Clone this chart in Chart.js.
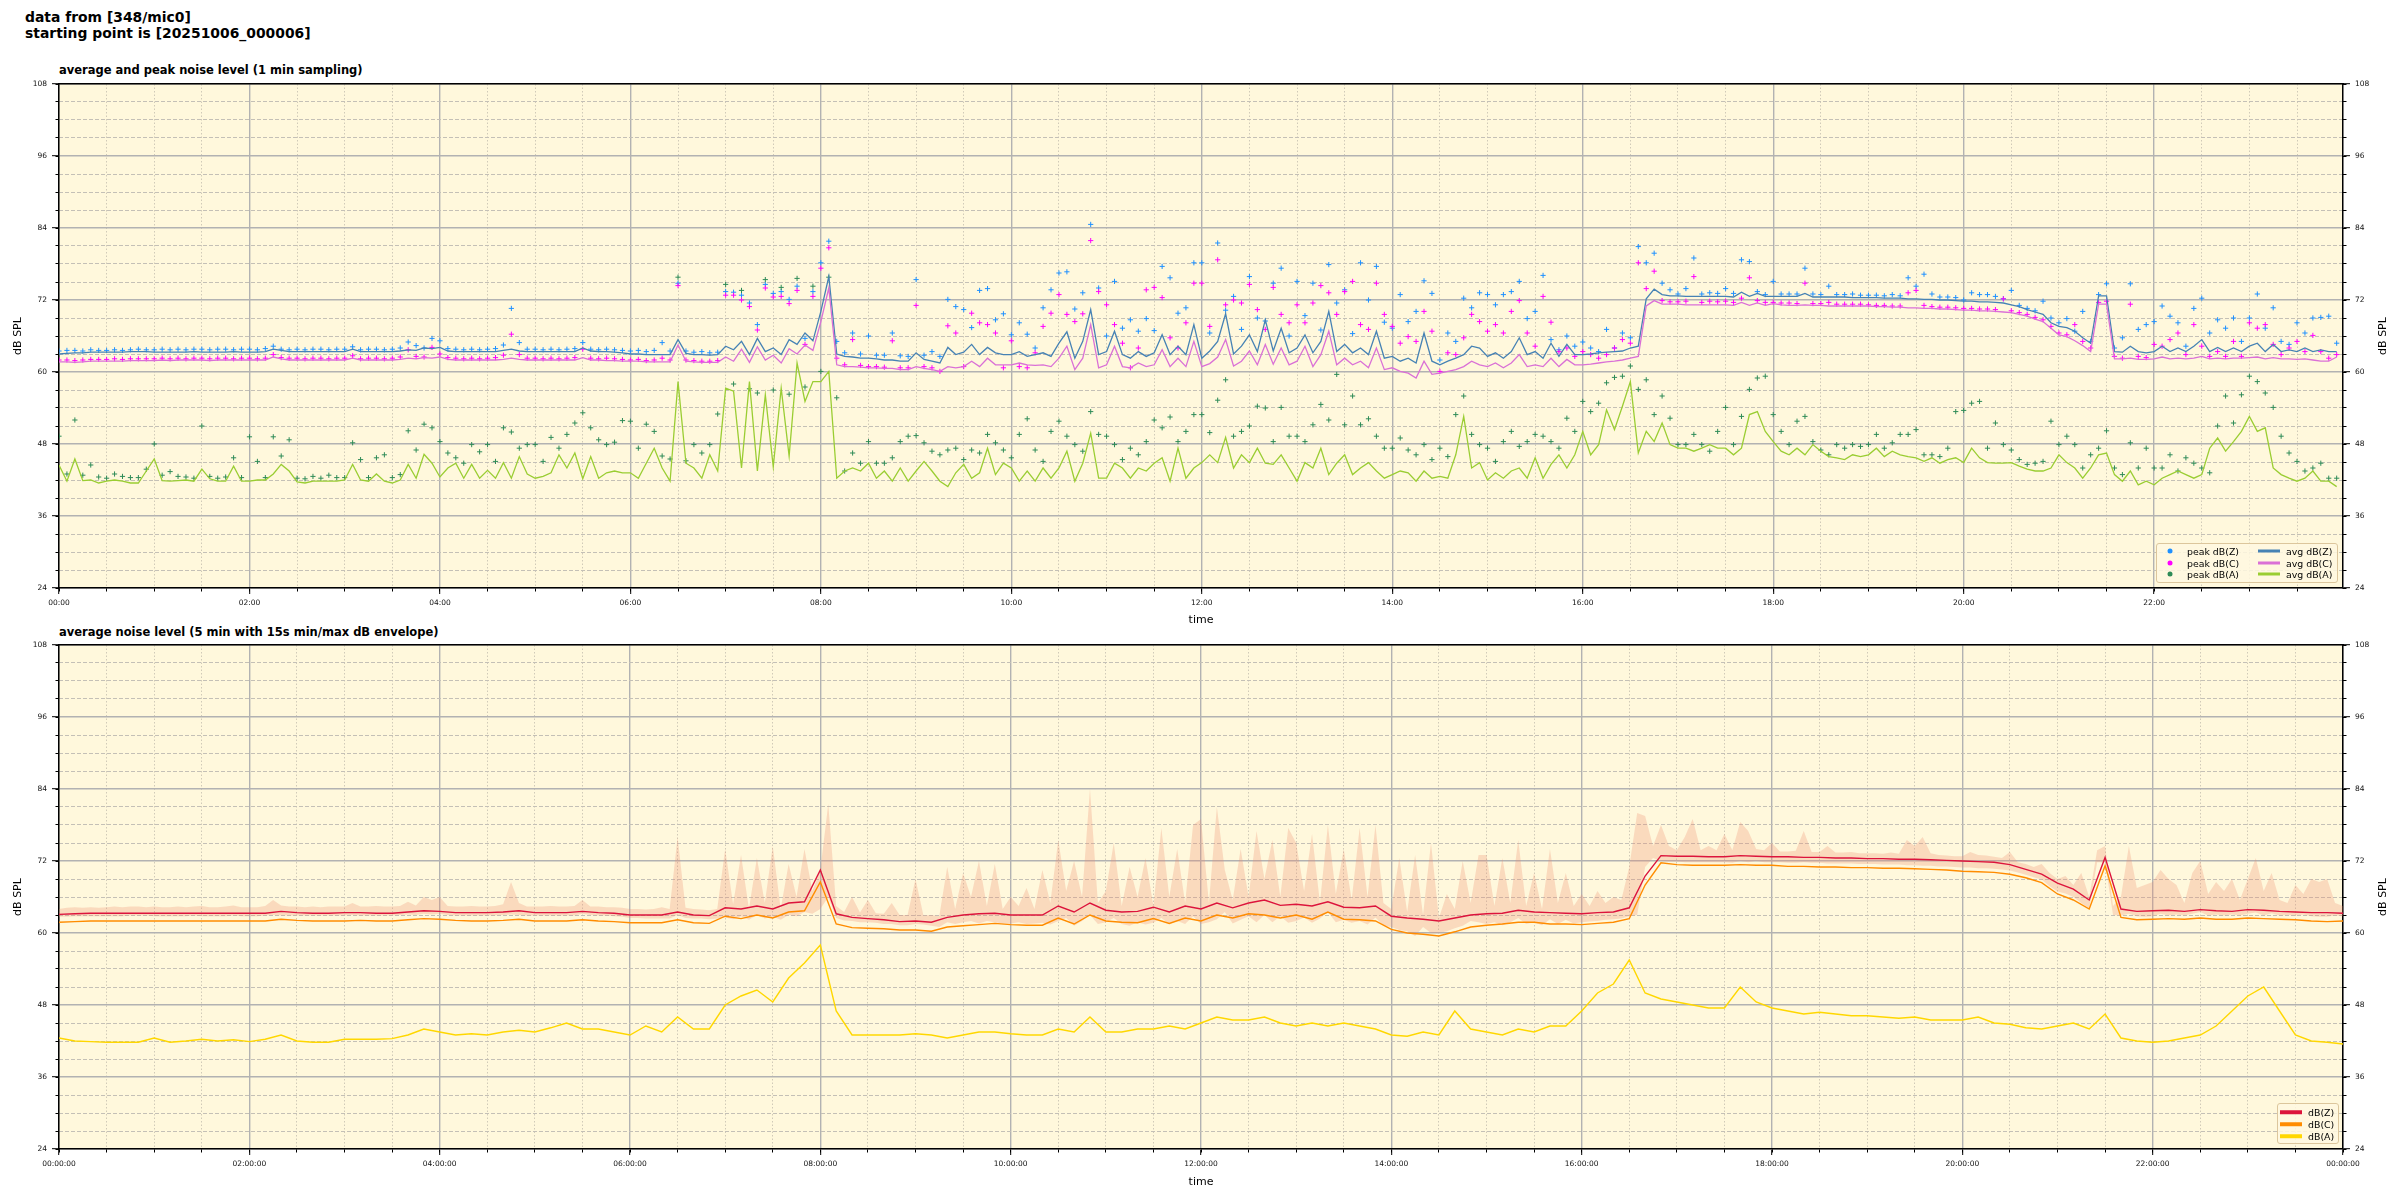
<!DOCTYPE html>
<html><head><meta charset="utf-8">
<script src="https://cdn.jsdelivr.net/npm/chart.js@4.4.1/dist/chart.umd.min.js"></script>
<style>
html,body{margin:0;padding:0;background:#fff}
body{width:2400px;height:1200px;position:relative;overflow:hidden;font-family:'DejaVu Sans',sans-serif;color:#000}
#sup{position:absolute;left:25px;top:10px;font-weight:bold;font-size:13.9px;line-height:15.5px;white-space:pre}
.ptitle{position:absolute;left:59px;font-weight:bold;font-size:11.5px;line-height:14px;white-space:nowrap}
canvas{position:absolute;left:0}
.rtitle{position:absolute;font-size:11px;line-height:13px;white-space:nowrap;transform:translate(-50%,-50%) rotate(-90deg)}
.legend{position:absolute;border:1px solid #dcc69c;border-radius:3px;background:rgba(255,248,225,0.85);box-sizing:border-box;font-size:9.4px}
.legend .t{position:absolute;line-height:11px;transform:translateY(-50%);white-space:nowrap}
.legend .d{position:absolute;width:5px;height:5px;border-radius:50%;transform:translate(-50%,-50%)}
.legend .l{position:absolute;width:22px;height:3px;transform:translateY(-50%)}
</style></head>
<body>
<div id="sup">data from [348/mic0]
starting point is [20251006_000006]</div>
<div class="ptitle" style="top:63px">average and peak noise level (1 min sampling)</div>
<div class="ptitle" style="top:625px">average noise level (5 min with 15s min/max dB envelope)</div>
<canvas id="c1" width="2400" height="576" style="top:60px;width:2400px;height:576px"></canvas>
<canvas id="c2" width="2400" height="580" style="top:620px;width:2400px;height:580px"></canvas>
<div class="rtitle" style="left:2382px;top:336px">dB SPL</div>
<div class="rtitle" style="left:2382px;top:897px">dB SPL</div>

<div class="legend" style="left:2156px;top:543px;width:182px;height:40px">
  <div class="d" style="left:13px;top:7px;background:#1E90FF"></div><div class="t" style="left:30px;top:7px">peak dB(Z)</div>
  <div class="d" style="left:13px;top:19px;background:#FF00FF"></div><div class="t" style="left:30px;top:19px">peak dB(C)</div>
  <div class="d" style="left:13px;top:30px;background:#2E8B57"></div><div class="t" style="left:30px;top:30px">peak dB(A)</div>
  <div class="l" style="left:101px;top:7px;background:#4682B4"></div><div class="t" style="left:129px;top:7px">avg dB(Z)</div>
  <div class="l" style="left:101px;top:19px;background:#DA70D6"></div><div class="t" style="left:129px;top:19px">avg dB(C)</div>
  <div class="l" style="left:101px;top:30px;background:#9ACD32"></div><div class="t" style="left:129px;top:30px">avg dB(A)</div>
</div>
<div class="legend" style="left:2277px;top:1103px;width:62px;height:41px">
  <div class="l" style="left:2px;top:8px;height:3.5px;background:#DC143C"></div><div class="t" style="left:30px;top:8px">dB(Z)</div>
  <div class="l" style="left:2px;top:20px;height:3.5px;background:#FF8C00"></div><div class="t" style="left:30px;top:20px">dB(C)</div>
  <div class="l" style="left:2px;top:32px;height:3.5px;background:#FFD700"></div><div class="t" style="left:30px;top:32px">dB(A)</div>
</div>

<script>
// ---------------- tick labels ----------------
const topTickHours = [0,2,4,6,8,10,12,14,16,18,20,22];
const topTickLabels = ['00:00','02:00','04:00','06:00','08:00','10:00','12:00','14:00','16:00','18:00','20:00','22:00'];
const bottomTickHours = [0,2,4,6,8,10,12,14,16,18,20,22,24];
const bottomTickLabels = ['00:00:00','02:00:00','04:00:00','06:00:00','08:00:00','10:00:00','12:00:00','14:00:00','16:00:00','18:00:00','20:00:00','22:00:00','00:00:00'];
const yTickValues = [24,36,48,60,72,84,96,108];

// ---------------- top panel: 5-minute samples (one row per hour) ----------------
const topStepMinutes = 5;
const avgZ = [
63.0,63.1,63.2,63.2,63.3,63.3,63.3,63.3,63.3,63.4,63.4,63.4,
63.3,63.3,63.3,63.3,63.3,63.4,63.3,63.3,63.3,63.3,63.4,63.3,
63.3,63.3,63.4,63.8,63.6,63.4,63.4,63.4,63.4,63.4,63.4,63.4,
63.4,63.8,63.4,63.4,63.4,63.4,63.4,63.5,63.7,63.6,64.0,63.9,
64.1,63.5,63.4,63.4,63.4,63.4,63.4,63.4,63.6,63.8,63.5,63.4,
63.4,63.4,63.4,63.4,63.4,63.4,64.0,63.5,63.4,63.4,63.3,63.2,
63.0,63.0,62.9,62.9,62.9,62.9,65.4,63.1,62.9,62.9,62.8,62.9,
64.3,63.7,65.1,62.9,65.6,63.4,64.0,62.9,65.4,64.6,66.5,65.2,
70.1,75.9,63.0,62.6,62.5,62.3,62.3,62.2,62.0,62.0,61.8,61.8,
63.2,62.1,61.8,61.5,64.1,62.9,63.3,64.6,62.9,64.1,63.2,62.9,
62.9,63.4,62.6,62.9,63.2,62.6,64.8,66.7,62.3,65.1,70.4,62.9,
63.4,66.8,62.9,62.3,63.4,62.6,63.2,66.2,62.9,64.3,62.9,67.9,
62.3,63.5,65.1,69.7,63.0,64.3,66.2,63.4,68.7,63.5,67.3,63.2,
64.0,66.2,63.2,65.1,70.1,63.4,64.6,63.2,64.0,62.9,66.8,62.3,
62.6,61.8,62.3,61.5,66.5,61.8,61.2,61.8,62.3,62.9,64.3,64.0,
62.6,63.2,62.3,63.4,65.7,62.9,63.4,62.3,64.8,62.6,64.6,62.9,
62.9,63.0,63.2,63.3,63.4,63.5,64.0,64.3,72.2,73.8,72.9,72.7,
72.7,72.6,72.6,72.6,72.6,72.6,72.6,72.5,73.3,72.6,73.1,72.6,
72.6,72.6,72.6,72.6,73.1,72.5,72.5,72.5,72.5,72.5,72.4,72.4,
72.4,72.4,72.3,72.3,72.3,72.2,72.2,72.1,72.1,72.0,72.0,71.9,
71.8,71.8,71.7,71.7,71.6,71.5,71.2,70.9,70.4,70.0,69.6,68.2,
67.6,67.4,66.8,65.7,64.8,72.7,72.7,63.4,63.3,64.3,63.4,63.2,
63.4,64.3,63.4,64.0,63.4,64.3,65.4,63.4,64.1,63.4,64.0,63.4,
64.3,64.8,63.4,64.6,63.4,63.7,63.4,64.0,63.4,63.7,63.4,63.4];
const avgC = [
61.7,61.7,61.6,61.7,61.8,61.8,61.8,61.8,61.8,61.9,61.9,61.9,
61.9,62.0,61.9,62.0,62.0,62.0,62.0,61.9,62.0,62.0,62.0,62.0,
62.0,62.0,62.0,62.5,62.2,62.0,62.0,62.0,62.0,62.0,62.0,62.0,
62.0,62.3,62.0,62.0,62.0,62.0,62.0,62.1,62.3,62.2,62.4,62.3,
62.5,62.1,62.0,62.0,62.0,62.0,62.0,62.0,62.1,62.3,62.1,62.0,
62.0,62.0,62.0,62.0,62.0,62.0,62.4,62.0,62.0,61.9,61.9,61.8,
61.8,61.8,61.7,61.7,61.7,61.7,64.5,61.8,61.7,61.6,61.6,61.6,
62.5,61.8,63.8,61.6,64.2,62.0,62.8,61.5,63.9,63.0,64.5,63.6,
68.4,74.0,61.2,60.9,60.9,60.8,60.7,60.7,60.6,60.6,60.4,60.4,
60.9,60.6,60.4,60.1,60.9,60.7,60.9,61.8,60.9,62.3,61.2,61.2,
61.2,61.5,61.2,61.1,61.2,60.9,62.3,64.3,60.4,62.3,67.9,60.7,
61.2,64.3,60.9,60.7,61.5,60.9,61.2,63.7,60.9,62.3,60.9,65.1,
60.9,61.4,62.5,65.4,61.0,61.8,63.5,61.2,64.6,61.3,64.0,61.2,
61.8,64.3,60.9,62.9,66.8,61.2,62.3,61.2,61.8,60.7,64.0,60.4,
60.7,60.1,59.8,59.0,61.8,59.6,59.8,60.1,60.4,60.9,61.8,61.2,
60.9,61.5,60.7,61.5,62.9,60.9,61.2,60.9,62.3,60.9,62.1,61.2,
61.2,61.3,61.5,61.7,61.8,62.0,62.3,62.6,71.0,71.9,71.3,71.3,
71.3,71.2,71.2,71.2,71.2,71.2,71.2,71.1,71.6,71.1,71.5,71.1,
71.4,71.2,71.1,71.1,71.2,71.1,71.1,71.0,71.0,71.0,71.0,71.0,
71.0,70.9,70.9,70.8,70.8,70.7,70.7,70.6,70.6,70.5,70.5,70.4,
70.3,70.3,70.2,70.2,70.1,70.0,69.9,69.6,69.3,68.8,68.4,67.3,
66.2,65.9,65.2,64.4,63.4,71.3,71.3,62.2,62.2,62.3,62.1,62.1,
62.2,62.5,62.2,62.3,62.2,62.3,62.6,62.2,62.3,62.2,62.3,62.3,
62.4,62.5,62.2,62.4,62.2,62.2,62.1,62.2,62.0,61.8,61.8,62.5];
const avgA = [
44.5,41.8,45.5,41.9,42.0,41.5,41.8,42.0,41.8,41.5,41.5,43.5,
45.5,41.9,41.8,41.9,42.0,41.8,43.8,42.2,41.8,41.8,44.3,41.8,
41.8,42.0,42.0,43.0,44.6,43.5,41.7,41.5,41.8,41.8,41.8,41.8,
42.0,44.6,42.0,41.8,43.0,41.8,41.5,42.0,44.6,42.3,46.3,44.8,
42.5,44.0,44.8,42.3,44.6,42.3,43.6,42.3,44.9,42.3,45.9,43.0,
42.3,42.6,43.2,46.2,44.0,46.5,42.2,45.9,42.3,43.2,43.5,43.2,
43.2,42.3,44.8,47.3,44.0,41.8,58.4,44.8,44.0,42.3,46.2,43.5,
57.3,56.8,44.0,58.4,43.5,56.2,44.2,57.3,46.0,61.5,55.1,58.4,
58.4,60.1,42.3,43.5,44.0,43.5,44.8,42.3,43.5,41.8,44.0,41.8,
43.5,45.1,43.5,41.8,40.9,43.2,44.6,42.3,43.2,47.3,42.9,44.8,
44.0,41.8,43.5,41.8,44.0,42.3,44.0,46.8,41.8,44.8,49.8,42.3,
42.3,44.8,44.0,42.3,44.0,43.5,44.8,45.7,41.8,47.3,42.3,44.0,
44.9,46.2,44.9,49.1,44.0,46.2,44.9,47.3,44.8,44.6,46.2,44.0,
41.8,44.9,44.0,47.3,42.9,44.8,46.2,42.9,44.0,44.9,43.5,42.3,
42.9,43.5,43.2,41.8,43.5,42.3,42.6,42.3,46.2,52.6,44.0,44.9,
42.0,43.2,42.3,43.5,44.0,42.3,45.7,42.3,44.6,46.2,44.0,46.2,
50.1,46.2,47.9,53.7,50.4,54.3,58.4,46.5,50.1,48.4,51.5,47.9,
47.3,47.3,46.8,47.3,47.9,47.3,47.3,46.2,47.3,52.9,53.4,50.1,
48.4,46.8,46.2,47.3,46.2,47.9,46.8,45.9,45.7,45.4,46.2,45.9,
46.2,47.3,45.9,46.8,46.2,45.9,45.7,45.1,45.7,44.8,45.4,45.7,
44.9,47.3,45.7,44.9,44.8,44.8,44.9,44.3,43.8,43.5,43.5,44.0,
46.2,44.9,44.0,42.3,44.0,46.2,46.5,42.9,41.8,43.5,41.2,41.8,
41.2,42.3,42.9,43.5,42.9,42.3,42.9,47.3,49.0,46.8,48.4,50.1,
52.6,50.1,50.7,44.0,42.9,42.3,41.8,42.3,43.5,41.8,41.8,40.9];
const peakZ = [
63.5,63.6,63.6,63.5,63.7,63.6,63.6,63.7,63.6,63.7,63.8,63.7,
63.7,63.8,63.7,63.8,63.7,63.8,63.8,63.7,63.8,63.8,63.7,63.8,
63.8,63.7,63.9,64.3,63.8,63.7,63.8,63.7,63.8,63.8,63.7,63.8,
63.8,64.2,63.7,63.8,63.8,63.7,63.8,64.0,65.0,64.4,64.0,65.6,
65.2,63.9,63.8,63.7,63.8,63.7,63.8,63.9,64.5,70.6,64.9,63.8,
63.8,63.7,63.8,63.7,63.8,63.9,64.9,63.8,63.7,63.8,63.7,63.6,
63.5,63.6,63.4,63.6,64.9,63.5,74.8,63.5,63.3,63.4,63.2,63.3,
73.4,73.3,72.8,71.5,67.9,74.6,73.1,73.4,72.1,74.3,65.6,73.4,
78.2,81.8,65.1,63.2,66.5,63.0,66.0,62.8,62.8,66.5,62.7,62.6,
75.4,62.8,63.4,62.6,72.1,70.9,70.4,67.4,73.6,73.9,68.7,69.7,
66.2,68.2,66.3,64.0,70.7,73.7,76.5,76.7,70.5,73.2,84.6,74.0,
66.0,75.1,67.3,68.7,66.8,68.9,66.9,77.6,75.7,69.8,70.7,78.2,
78.2,66.5,81.5,70.3,72.6,67.1,75.9,69.0,68.5,74.8,77.3,66.0,
75.1,69.4,74.8,67.0,77.9,71.5,73.7,66.4,78.2,72.0,77.6,68.3,
67.3,72.9,68.4,70.1,75.2,73.1,62.0,66.5,65.1,72.3,70.7,73.2,
72.9,71.2,72.9,73.4,75.1,68.9,70.1,76.1,65.4,63.7,66.0,64.3,
65.0,64.0,63.4,67.1,64.0,66.5,65.7,80.9,78.2,79.8,74.8,73.7,
73.0,73.9,79.0,73.0,73.2,73.1,73.9,73.1,78.7,78.4,73.4,72.9,
75.1,73.0,73.0,73.0,77.3,73.0,72.9,74.3,72.9,72.9,73.0,72.8,
72.8,72.8,72.7,72.9,72.7,75.7,74.3,76.3,73.0,72.5,72.5,72.4,
72.0,73.2,72.9,72.9,72.6,72.2,73.6,71.1,70.6,70.2,71.8,69.0,
68.2,68.9,66.8,70.1,65.1,72.9,74.7,64.0,65.7,74.7,67.1,67.9,
68.4,71.0,69.3,68.2,64.3,70.6,72.3,66.5,68.7,67.3,69.0,65.1,
69.0,73.0,67.3,70.7,65.1,64.6,68.2,66.5,69.0,69.1,69.3,64.8];
const peakC = [
62.0,62.0,61.9,62.0,62.1,62.1,62.1,62.2,62.1,62.2,62.2,62.2,
62.2,62.3,62.2,62.3,62.2,62.3,62.3,62.2,62.3,62.3,62.2,62.3,
62.3,62.2,62.3,62.9,62.4,62.3,62.3,62.2,62.3,62.3,62.2,62.3,
62.3,62.7,62.2,62.3,62.3,62.2,62.3,62.5,63.7,62.6,62.5,64.1,
63.0,62.4,62.3,62.2,62.3,62.2,62.3,62.4,62.8,66.3,62.9,62.3,
62.3,62.2,62.3,62.2,62.3,62.4,63.8,62.3,62.2,62.3,62.2,62.1,
62.0,62.1,61.9,62.0,62.3,62.0,74.4,62.0,61.9,61.8,61.8,61.9,
72.8,72.8,72.0,70.9,67.0,74.0,72.5,72.6,71.4,73.6,64.6,72.6,
77.3,80.7,62.3,61.2,65.4,61.1,60.9,60.9,60.8,65.2,60.7,60.7,
71.1,60.9,60.7,60.1,67.7,66.5,60.9,69.8,68.2,67.9,66.5,60.7,
65.2,60.9,60.7,63.2,67.6,69.8,72.9,69.6,68.4,69.7,81.9,73.4,
71.2,67.9,64.8,60.7,64.0,73.7,74.1,72.4,65.7,64.0,68.2,74.8,
74.8,67.6,78.7,71.2,72.0,71.5,74.6,70.4,67.1,74.1,69.6,68.2,
71.2,68.2,71.5,74.4,73.2,69.6,73.4,75.1,67.9,67.1,74.8,69.6,
67.6,64.8,65.9,65.1,70.1,66.8,60.1,63.2,62.9,65.7,69.6,68.4,
66.8,67.9,66.5,70.1,71.9,66.5,64.3,72.6,68.3,63.4,64.0,62.6,
63.4,62.9,62.3,62.9,64.0,65.4,64.8,78.2,73.9,76.8,71.9,71.7,
71.7,71.8,75.9,71.6,71.8,71.7,71.8,71.6,72.3,75.7,71.9,71.6,
71.6,71.5,71.5,71.4,74.8,71.4,71.4,71.6,71.3,71.3,71.3,71.3,
71.2,71.1,71.1,71.0,71.0,73.2,73.6,71.1,70.9,70.8,70.8,70.7,
70.6,70.6,70.5,70.5,70.4,72.2,70.2,69.9,69.6,69.1,68.7,67.6,
66.5,66.2,67.9,65.1,64.0,71.6,71.8,62.6,62.3,71.3,62.6,62.4,
64.6,64.3,65.4,66.5,62.9,67.9,64.3,62.6,63.4,62.6,65.1,62.6,
68.2,67.3,67.9,64.6,62.9,64.0,65.1,63.4,66.1,63.4,62.3,62.9];
const peakA = [
49.3,43.0,52.0,42.8,44.5,42.5,42.3,43.0,42.6,42.4,42.4,43.8,
48.0,42.8,43.4,42.6,42.5,42.3,51.0,42.6,42.3,42.5,45.7,42.4,
49.2,45.1,42.4,49.2,46.0,48.7,42.3,42.2,42.6,42.3,42.8,42.4,
42.4,48.2,45.4,42.4,45.7,46.2,42.4,42.9,50.2,47.0,51.3,50.7,
48.4,46.5,45.7,44.8,47.9,46.7,47.9,45.1,50.7,50.0,47.3,47.9,
47.9,45.1,49.1,47.3,49.6,51.5,53.2,50.7,48.7,47.9,48.3,51.9,
51.8,47.3,51.3,50.1,46.0,45.5,75.8,45.2,47.9,46.5,47.9,53.0,
74.6,58.0,73.6,57.2,56.5,75.4,57.0,74.1,56.3,75.6,57.5,74.3,
60.1,75.8,55.7,43.5,46.5,44.8,48.4,44.8,44.8,45.7,48.4,49.3,
49.4,48.2,46.8,46.2,47.0,47.3,45.4,47.0,46.5,49.6,48.2,47.0,
45.7,49.6,52.2,47.0,45.1,50.1,51.8,49.3,47.9,46.8,53.4,49.6,
49.3,47.9,45.4,47.3,46.2,48.4,52.0,50.7,52.5,48.4,50.1,52.9,
52.9,49.9,55.3,58.7,49.3,50.1,51.0,54.3,54.0,48.4,54.1,49.3,
49.3,48.4,51.2,54.6,52.0,59.6,51.2,56.0,51.2,52.2,49.3,47.3,
47.3,49.0,47.0,46.2,47.9,45.4,47.3,45.9,52.9,56.0,49.6,47.9,
47.3,45.1,48.4,50.1,47.6,48.4,49.6,49.3,48.4,47.3,52.3,50.1,
55.1,53.4,54.8,58.2,59.1,59.3,61.0,57.1,58.7,52.9,56.0,52.3,
47.9,47.9,49.6,47.9,46.8,50.1,54.1,47.9,52.6,57.1,59.0,59.3,
52.9,50.1,47.9,51.8,52.6,48.4,47.0,46.2,47.9,47.3,47.9,47.6,
47.9,49.6,47.3,48.2,49.6,49.6,50.4,46.2,46.2,45.9,47.3,53.4,
53.6,54.8,55.1,47.3,51.5,47.9,47.0,45.4,44.6,44.8,45.1,51.8,
47.9,49.3,47.9,44.0,46.2,47.3,50.2,44.0,42.9,48.2,44.0,47.3,
44.0,44.0,46.2,43.5,45.7,44.8,44.0,43.2,51.0,56.0,51.5,56.2,
59.3,58.4,56.5,54.1,49.3,46.5,45.1,43.5,44.0,44.8,42.3,42.3];

// ---------------- bottom panel: 10-minute line samples (last = 24:00) ----------------
const bottomStepMinutes = 10;
const levelZ = [
63.1,63.2,63.3,63.3,63.3,63.3, 63.3,63.3,63.3,63.3,63.3,63.3, 63.3,63.3,63.6,63.4,63.3,63.3,
63.4,63.4,63.3,63.3,63.5,63.7, 63.6,63.4,63.4,63.4,63.5,63.7, 63.4,63.4,63.4,63.6,63.4,63.3,
63.0,63.0,63.0,63.5,63.0,62.9, 64.2,64.0,64.5,64.0,65.0,65.2, 70.5,63.2,62.6,62.4,62.2,61.9,
62.0,61.8,62.6,63.0,63.2,63.3, 63.0,63.0,63.0,64.5,63.5,65.0, 63.8,63.5,63.6,64.3,63.5,64.5,
64.0,65.0,64.2,65.0,65.5,64.6, 64.8,64.5,65.2,64.3,64.2,64.5, 62.8,62.5,62.3,62.0,62.5,63.0,
63.2,63.3,63.8,63.5,63.4,63.3, 63.2,63.4,63.5,64.2,69.5,72.9, 72.8,72.8,72.7,72.7,72.9,72.8,
72.7,72.7,72.6,72.6,72.5,72.5, 72.4,72.4,72.3,72.3,72.2,72.1, 72.0,71.9,71.8,71.4,70.6,69.8,
68.3,67.3,65.5,72.6,64.0,63.6, 63.7,63.8,63.6,63.9,63.7,63.6, 63.9,63.8,63.6,63.5,63.4,63.4,
63.3];
const levelC = [
61.8,61.9,62.0,62.0,62.0,62.0, 62.0,62.0,62.0,62.0,62.0,62.0, 62.0,62.0,62.3,62.1,62.0,62.0,
62.0,62.1,62.0,62.0,62.2,62.4, 62.3,62.1,62.0,62.0,62.1,62.3, 62.0,62.0,62.0,62.2,62.0,61.9,
61.7,61.7,61.7,62.2,61.7,61.6, 62.8,62.4,63.0,62.5,63.5,63.7, 68.5,61.5,60.9,60.8,60.7,60.5,
60.5,60.3,61.0,61.2,61.4,61.6, 61.4,61.3,61.3,62.5,61.5,63.0, 62.0,61.8,61.7,62.4,61.6,62.5,
62.0,63.0,62.5,63.2,63.0,62.5, 63.0,62.3,63.5,62.3,62.2,62.0, 60.6,60.0,59.8,59.5,60.2,61.0,
61.3,61.5,61.8,61.8,61.5,61.5, 61.4,61.6,61.8,62.4,68.0,71.7, 71.4,71.3,71.3,71.3,71.4,71.3,
71.3,71.1,71.1,71.0,71.0,70.9, 70.9,70.8,70.8,70.7,70.6,70.5, 70.3,70.2,70.1,69.8,69.2,68.4,
66.5,65.5,64.0,71.2,62.6,62.2, 62.3,62.4,62.3,62.5,62.3,62.3, 62.5,62.4,62.3,62.2,62.0,61.9,
62.0];
const levelA = [
42.5,42.0,41.9,41.8,41.8,41.8, 42.5,41.8,42.0,42.3,42.0,42.2, 41.9,42.3,43.0,42.0,41.8,41.8,
42.3,42.3,42.3,42.4,43.0,44.0, 43.5,43.0,43.2,43.0,43.5,43.8, 43.5,44.2,45.0,44.0,44.0,43.5,
43.0,44.5,43.5,46.0,44.0,44.0, 48.0,49.5,50.5,48.5,52.5,55.0, 58.0,47.0,43.0,43.0,43.0,43.0,
43.2,43.0,42.5,43.0,43.5,43.5, 43.2,43.0,43.0,44.0,43.5,46.0, 43.5,43.5,44.0,44.0,44.5,44.0,
45.0,46.0,45.5,45.5,46.0,45.0, 44.5,45.0,44.5,45.0,44.5,44.0, 43.0,42.8,43.5,43.0,47.0,44.0,
43.5,43.0,44.0,43.5,44.5,44.5, 47.0,50.0,51.5,55.5,50.0,49.0, 48.5,48.0,47.5,47.5,51.0,48.5,
47.5,47.0,46.5,46.8,46.5,46.2, 46.2,46.0,45.8,46.0,45.5,45.5, 45.5,46.0,45.0,44.8,44.2,44.0,
44.5,45.0,44.0,46.5,42.5,42.0, 41.8,42.0,42.5,43.0,44.5,47.0, 49.5,51.0,47.0,43.0,42.0,41.8,
41.5];

// ---------------- bottom panel: 5-minute min/max envelope (one row per hour, last = 24:00) ----------------
const envelopeStepMinutes = 5;
const envelopeMax = [
64.0,64.2,64.3,64.2,64.3,64.2,64.3,64.4,64.3,64.4,64.4,64.3,
64.4,64.3,64.3,64.4,64.3,64.4,64.5,64.3,64.3,64.4,64.6,64.3,
64.3,64.3,64.5,65.5,64.6,64.4,64.4,64.3,64.4,64.3,64.4,64.4,
64.4,65.0,64.4,64.4,64.5,64.4,64.4,64.5,65.2,64.6,66.0,65.5,
66.0,64.5,64.4,64.4,64.5,64.4,64.4,64.5,64.8,68.5,65.0,64.4,
64.4,64.4,64.5,64.4,64.4,64.5,65.5,64.4,64.4,64.3,64.3,64.2,
64.0,64.0,63.9,64.0,64.3,64.0,76.0,64.2,64.0,63.9,63.8,64.0,
74.0,64.8,73.0,64.0,72.5,65.0,74.5,64.0,71.5,66.0,74.0,67.0,
70.5,81.5,64.5,63.5,66.0,63.4,65.5,63.3,63.2,65.0,63.0,63.0,
69.0,62.9,63.0,62.8,71.0,64.0,70.0,66.0,72.0,64.5,71.5,64.0,
66.0,64.5,67.5,64.0,70.5,65.0,75.5,67.0,72.0,66.0,84.0,65.0,
67.0,75.0,64.5,71.0,66.0,72.5,64.5,77.5,66.0,74.0,65.0,78.0,
79.0,65.0,81.0,70.5,65.5,74.0,66.0,77.0,69.0,75.5,66.0,77.5,
75.0,67.0,76.5,65.0,78.0,66.5,74.0,65.5,77.5,66.0,78.0,65.0,
64.0,72.5,63.5,73.0,63.0,75.0,62.5,66.5,64.0,72.0,65.0,73.0,
73.0,64.5,72.5,65.0,75.5,64.5,70.0,64.0,74.0,65.0,70.0,64.5,
66.5,64.5,67.0,65.0,66.0,65.5,71.0,80.0,79.5,74.5,78.0,74.5,
73.8,76.0,79.0,73.8,74.5,73.8,76.5,73.8,78.5,77.0,74.0,73.8,
75.0,73.6,73.6,73.7,77.0,73.5,73.5,74.5,73.4,73.4,73.5,73.3,
73.3,73.3,73.2,73.4,73.2,75.5,74.5,76.0,73.3,73.0,72.9,72.8,
72.8,73.5,73.0,72.9,72.7,72.5,73.5,71.8,71.5,71.0,71.5,70.0,
69.0,69.5,68.0,70.0,66.0,73.8,74.5,64.5,66.0,74.5,67.5,68.0,
68.5,70.5,69.0,68.0,65.0,70.0,72.0,66.5,68.5,67.0,69.0,65.5,
69.0,72.5,67.0,70.0,65.5,65.0,68.0,66.5,69.0,68.5,69.0,65.0,
64.5];
const envelopeMin = [
62.7,62.7,62.8,62.8,62.8,62.8,62.8,62.8,62.8,62.9,62.9,62.9,
62.8,62.8,62.8,62.8,62.8,62.9,62.8,62.8,62.8,62.8,62.9,62.8,
62.8,62.8,62.9,63.0,62.9,62.9,62.9,62.9,62.9,62.9,62.9,62.9,
62.9,63.0,62.9,62.9,62.9,62.9,62.9,63.0,63.1,63.0,63.2,63.1,
63.2,63.0,62.9,62.9,62.9,62.9,62.9,62.9,63.0,63.1,63.0,62.9,
62.9,62.9,62.9,62.9,62.9,62.9,63.2,63.0,62.9,62.9,62.8,62.7,
62.5,62.5,62.4,62.4,62.4,62.4,63.0,62.5,62.4,62.4,62.3,62.4,
62.6,62.3,62.8,62.2,63.0,62.4,62.7,62.2,63.0,62.8,63.5,63.2,
64.0,66.0,62.5,62.1,62.0,61.8,61.8,61.7,61.5,61.5,61.3,61.3,
61.5,61.4,61.2,61.0,61.8,61.5,61.8,62.0,61.6,62.0,61.8,61.6,
61.6,61.8,61.5,61.6,61.7,61.4,62.0,62.5,61.2,62.0,63.0,61.5,
61.8,62.5,61.5,61.2,61.8,61.4,61.7,62.5,61.5,62.0,61.5,62.8,
61.5,61.8,62.3,63.5,61.6,62.2,62.8,61.8,63.0,61.8,62.8,61.7,
62.0,62.6,61.7,62.4,63.5,61.8,62.2,61.7,62.0,61.4,62.6,61.2,
61.0,60.5,60.3,59.5,61.0,60.0,60.0,60.3,60.8,61.2,62.0,61.8,
61.5,61.8,61.3,61.8,62.5,61.5,61.8,61.3,62.3,61.5,62.2,61.6,
61.8,61.9,62.0,62.2,62.3,62.4,62.8,63.0,71.0,72.5,72.0,71.9,
71.9,71.8,71.8,71.8,71.8,71.8,71.8,71.7,72.0,71.8,72.0,71.8,
71.8,71.8,71.7,71.7,71.8,71.7,71.7,71.6,71.6,71.6,71.6,71.5,
71.5,71.5,71.4,71.4,71.4,71.3,71.3,71.2,71.2,71.1,71.1,71.0,
70.9,70.9,70.8,70.8,70.7,70.6,70.4,70.1,69.7,69.3,68.9,67.8,
66.9,66.6,66.0,65.0,64.1,71.8,71.8,63.0,62.9,63.2,62.8,62.7,
62.8,63.2,62.9,63.1,62.9,63.2,63.5,62.9,63.1,62.9,63.1,62.9,
63.2,63.4,62.9,63.3,62.9,63.0,62.9,63.1,62.8,62.7,62.7,62.9,
62.8];

// ---------------- chart helpers ----------------
const FONT = "'DejaVu Sans', sans-serif";
const toPoints = (values, stepMinutes) => values.map((v, i) => ({x: i * stepMinutes / 60, y: v}));

const plotBackground = {
  id: 'plotBackground',
  beforeDraw(chart) {
    const {ctx, chartArea: a} = chart;
    ctx.save();
    ctx.fillStyle = '#FFF8DC';
    ctx.fillRect(a.left, a.top, a.right - a.left, a.bottom - a.top);
    ctx.restore();
  }
};

function buildScales(cfg) {
  const tickFont = {family: FONT, size: 7.5};
  const minorY = c => (c.tick && c.tick.value % 12 === 0) ? 'rgba(0,0,0,0)' : '#c4c0b6';
  const minorX = c => (c.tick && c.tick.value % 2 === 0) ? 'rgba(0,0,0,0)' : '#d0cab8';
  const yMajor = (pos) => ({
    type: 'linear', position: pos, weight: 1, min: 24, max: 108,
    afterBuildTicks: s => { s.ticks = yTickValues.map(v => ({value: v})); },
    afterFit: s => { s.width = pos === 'left' ? 59 : 57; },
    ticks: {font: tickFont, color: '#111', padding: 5, callback: v => String(v)},
    grid: {display: true, drawOnChartArea: pos === 'left', color: '#b2b2b2', lineWidth: 1.4, tickLength: 7, tickColor: '#000', tickWidth: 1},
    border: {display: true, color: '#000', width: 1.5},
    title: {display: pos === 'left', text: 'dB SPL', font: {family: FONT, size: 11}, color: '#000', padding: {top: 12, bottom: 0}}
  });
  const yMinor = (pos) => ({
    type: 'linear', position: pos, weight: 0, min: 24, max: 108,
    afterFit: s => { s.width = 0; },
    ticks: {display: false, stepSize: 3, autoSkip: false},
    grid: {display: true, drawOnChartArea: pos === 'left', color: minorY, lineWidth: 1, tickLength: 3.5, tickColor: '#000', tickWidth: 1},
    border: {display: false, dash: [4, 2]}
  });
  return {
    x: {
      type: 'linear', position: 'bottom', weight: 1, min: 0, max: cfg.xMax,
      afterBuildTicks: s => { s.ticks = cfg.tickHours.map(v => ({value: v})); },
      afterFit: s => { s.height = cfg.bottomHeight; },
      ticks: {font: tickFont, color: '#111', padding: 5, maxRotation: 0, autoSkip: false,
        callback: v => { const i = cfg.tickHours.indexOf(v); return i < 0 ? '' : cfg.tickLabels[i]; }},
      grid: {color: '#b2b2b2', lineWidth: 1.4, tickLength: 6, tickColor: '#000', tickWidth: 1},
      border: {display: true, color: '#000', width: 1.5},
      title: {display: true, text: 'time', font: {family: FONT, size: 11}, color: '#000', padding: {top: 0, bottom: cfg.timePad}}
    },
    xm: {
      type: 'linear', position: 'bottom', weight: 0, min: 0, max: cfg.xMax,
      afterFit: s => { s.height = 0; },
      ticks: {display: false, stepSize: 0.5, includeBounds: false, autoSkip: false},
      grid: {color: minorX, lineWidth: 1, tickLength: 3.5, tickColor: '#000', tickWidth: 1},
      border: {display: false, dash: [1.5, 2]}
    },
    xt: {
      type: 'linear', position: 'top', min: 0, max: cfg.xMax,
      afterFit: s => { s.height = 0; },
      ticks: {display: false}, grid: {display: false},
      border: {display: true, color: '#000', width: 1.5}
    },
    y: yMajor('left'), ym: yMinor('left'),
    y2: yMajor('right'), y2m: yMinor('right')
  };
}

function baseOptions(cfg) {
  return {
    responsive: false, animation: false, events: [],
    layout: {padding: {top: cfg.padTop, left: 0, right: 0, bottom: 0}},
    plugins: {legend: {display: false}, tooltip: {enabled: false}},
    elements: {line: {tension: 0}},
    scales: buildScales(cfg)
  };
}

const lineDs = (label, values, step, color, width, order) => ({
  label, data: toPoints(values, step), borderColor: color, backgroundColor: color,
  borderWidth: width, pointRadius: 0, fill: false, order, xAxisID: 'x', yAxisID: 'y'
});
const peakDs = (label, values, step, color, order) => ({
  label, data: toPoints(values, step), showLine: false, pointStyle: 'cross', pointRadius: 2.6,
  pointBorderColor: color, pointBackgroundColor: color, pointBorderWidth: 1, borderColor: color,
  order, xAxisID: 'x', yAxisID: 'y'
});

new Chart(document.getElementById('c1'), {
  type: 'line',
  data: {datasets: [
    lineDs('avg dB(A)', avgA, topStepMinutes, '#9ACD32', 1.3, 0),
    lineDs('avg dB(C)', avgC, topStepMinutes, '#DA70D6', 1.3, 1),
    lineDs('avg dB(Z)', avgZ, topStepMinutes, '#4682B4', 1.3, 2),
    peakDs('peak dB(A)', peakA, topStepMinutes, '#2E8B57', 3),
    peakDs('peak dB(C)', peakC, topStepMinutes, '#FF00FF', 4),
    peakDs('peak dB(Z)', peakZ, topStepMinutes, '#1E90FF', 5)
  ]},
  options: baseOptions({xMax: 23.983, tickHours: topTickHours, tickLabels: topTickLabels, bottomHeight: 48, timePad: 9.5, padTop: 24}),
  plugins: [plotBackground]
});

new Chart(document.getElementById('c2'), {
  type: 'line',
  data: {datasets: [
    {label: 'envelope max', data: toPoints(envelopeMax, envelopeStepMinutes), borderWidth: 0, pointRadius: 0,
     fill: '+1', backgroundColor: 'rgba(236,140,110,0.28)', order: 5, xAxisID: 'x', yAxisID: 'y'},
    {label: 'envelope min', data: toPoints(envelopeMin, envelopeStepMinutes), borderWidth: 0, pointRadius: 0,
     fill: false, order: 6, xAxisID: 'x', yAxisID: 'y'},
    lineDs('dB(A)', levelA, bottomStepMinutes, '#FFD700', 1.4, 2),
    lineDs('dB(C)', levelC, bottomStepMinutes, '#FF8C00', 1.4, 1),
    lineDs('dB(Z)', levelZ, bottomStepMinutes, '#DC143C', 1.4, 0)
  ]},
  options: baseOptions({xMax: 24, tickHours: bottomTickHours, tickLabels: bottomTickLabels, bottomHeight: 51, timePad: 11.5, padTop: 25}),
  plugins: [plotBackground]
});
</script>
</body></html>
